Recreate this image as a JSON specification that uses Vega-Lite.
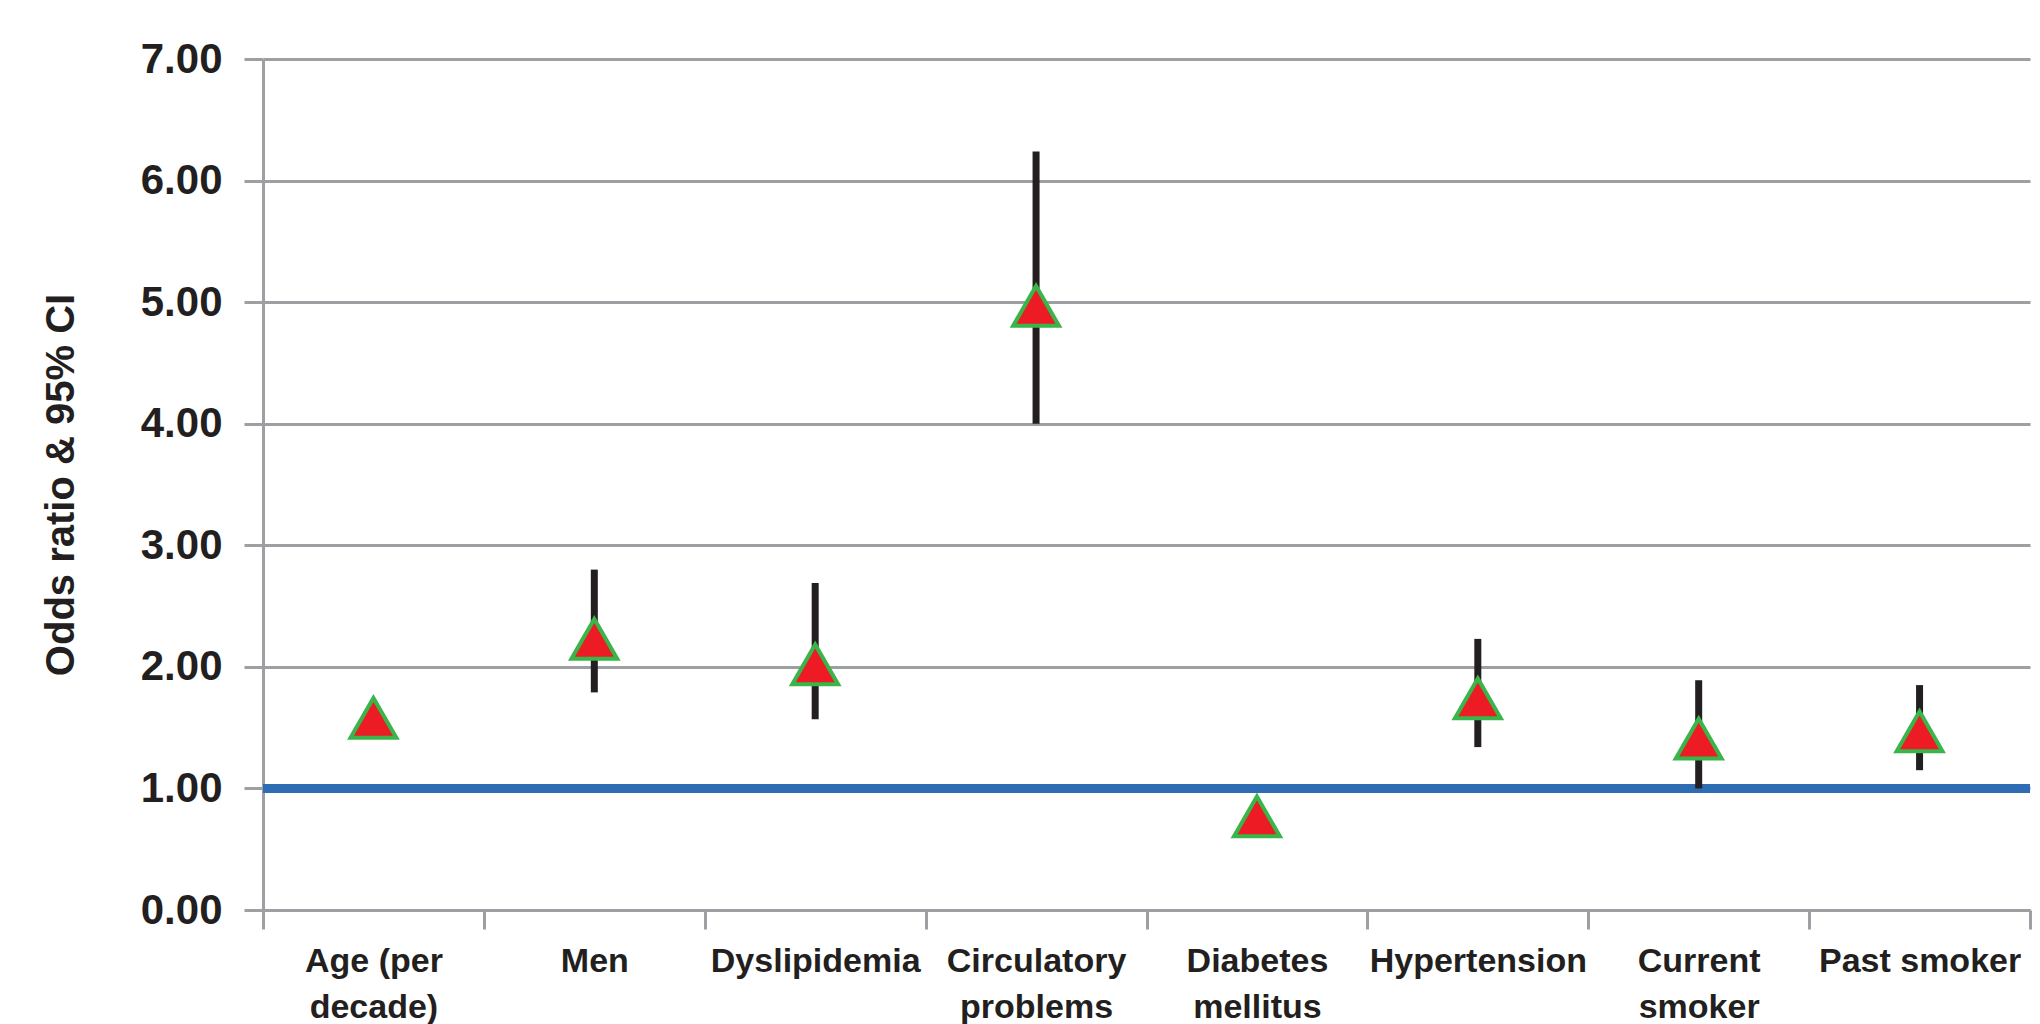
{
  "$schema": "https://vega.github.io/schema/vega-lite/v6.json",
  "autosize": "none",
  "width": 1767,
  "height": 851,
  "padding": {"left": 263, "top": 59, "right": 10, "bottom": 114},
  "background": "white",
  "config": {"view": {"stroke": null}},
  "data": {
    "values": [
      {"factor": "Age (per decade)", "or": 1.58, "lo": null, "hi": null},
      {"factor": "Men", "or": 2.23, "lo": 1.79, "hi": 2.80},
      {"factor": "Dyslipidemia", "or": 2.02, "lo": 1.57, "hi": 2.69},
      {"factor": "Circulatory problems", "or": 4.97, "lo": 4.00, "hi": 6.24},
      {"factor": "Diabetes mellitus", "or": 0.77, "lo": null, "hi": null},
      {"factor": "Hypertension", "or": 1.74, "lo": 1.34, "hi": 2.23},
      {"factor": "Current smoker", "or": 1.41, "lo": 1.00, "hi": 1.89},
      {"factor": "Past smoker", "or": 1.47, "lo": 1.15, "hi": 1.85}
    ]
  },
  "encoding": {
    "x": {
      "field": "factor",
      "type": "nominal",
      "sort": null,
      "scale": {
        "domain": ["Age (per decade)", "Men", "Dyslipidemia", "Circulatory problems", "Diabetes mellitus", "Hypertension", "Current smoker", "Past smoker"],
        "paddingInner": 0,
        "paddingOuter": 0
      },
      "axis": {
        "title": null,
        "tickBand": "extent",
        "labelAngle": 0,
        "labelBaseline": "top",
        "labelAlign": "center",
        "labelFont": "Liberation Sans",
        "labelFontWeight": "bold",
        "labelFontSize": 34,
        "labelColor": "#231f20",
        "labelLineHeight": 46,
        "labelPadding": 15,
        "labelLimit": 300,
        "labelExpr": "datum.value == 'Age (per decade)' ? ['Age (per', 'decade)'] : datum.value == 'Circulatory problems' ? ['Circulatory', 'problems'] : datum.value == 'Diabetes mellitus' ? ['Diabetes', 'mellitus'] : datum.value == 'Current smoker' ? ['Current', 'smoker'] : datum.value",
        "tickSize": 19,
        "tickWidth": 3,
        "tickColor": "#9d9fa2",
        "domainColor": "#9d9fa2",
        "domainWidth": 3,
        "grid": false
      }
    }
  },
  "layer": [
    {
      "mark": {"type": "rule", "color": "#2e6db4", "strokeWidth": 8},
      "encoding": {"y": {"datum": 1, "type": "quantitative"}, "x": null}
    },
    {
      "mark": {"type": "rule", "color": "#231f20", "strokeWidth": 7},
      "encoding": {
        "y": {
          "field": "lo",
          "type": "quantitative",
          "scale": {"domain": [0, 7], "nice": false, "zero": true},
          "axis": {
            "title": "Odds ratio & 95% CI",
            "titleFont": "Liberation Sans",
            "titleFontWeight": "bold",
            "titleFontSize": 40,
            "titleColor": "#231f20",
            "titlePadding": 59,
            "values": [0, 1, 2, 3, 4, 5, 6, 7],
            "format": ".2f",
            "labelFont": "Liberation Sans",
            "labelFontWeight": "bold",
            "labelFontSize": 42,
            "labelColor": "#231f20",
            "labelPadding": 22,
            "tickSize": 19,
            "tickWidth": 3,
            "tickColor": "#9d9fa2",
            "domainColor": "#9d9fa2",
            "domainWidth": 3,
            "grid": true,
            "gridColor": "#9d9fa2",
            "gridWidth": 3,
            "gridOpacity": 1
          }
        },
        "y2": {"field": "hi"}
      }
    },
    {
      "mark": {"type": "point", "shape": "triangle-up", "filled": true, "fill": "#ed1c24", "fillOpacity": 1, "stroke": "#39b54a", "strokeWidth": 4, "strokeOpacity": 1, "size": 2100},
      "encoding": {
        "y": {"field": "or", "type": "quantitative"}
      }
    }
  ]
}
